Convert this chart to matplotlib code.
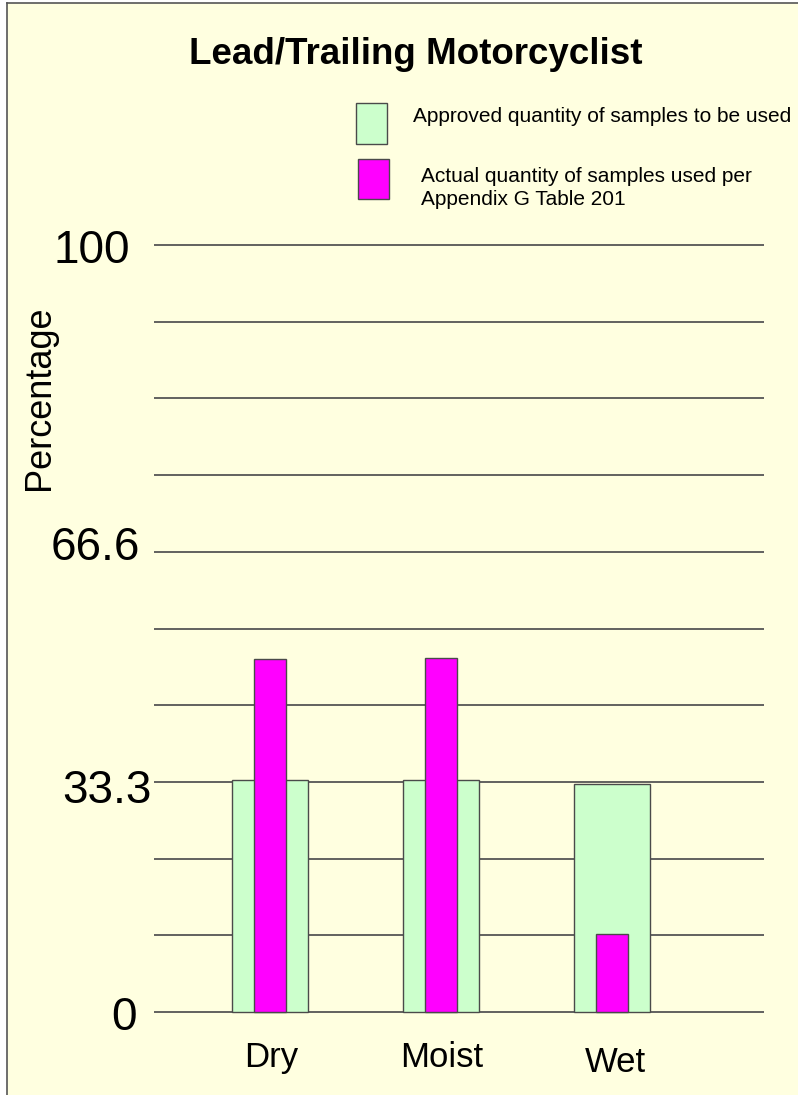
import matplotlib
matplotlib.use("Agg")
import matplotlib.pyplot as plt
from matplotlib.patches import Rectangle
from matplotlib.lines import Line2D
import matplotlib.transforms as mtransforms

plt.rcParams['font.family'] = ['Liberation Sans', 'DejaVu Sans']

# Data
categories = ["Dry", "Moist", "Wet"]
approved = [30.2, 30.2, 29.7]
actual = [46.0, 46.2, 10.2]
ytick_vals = [0, 30, 60, 100]
ytick_labels = ["0", "33.3", "66.6", "100"]
grid_vals = list(range(0, 101, 10))

W, H = 798, 1095
BG = "#FFFFE0"
GREEN = "#CCFFCC"
MAGENTA = "#FF00FF"

fig = plt.figure(figsize=(W / 100, H / 100), dpi=100)
fig.patch.set_facecolor("white")


def fx(x):
    return x / W


def fy(y):
    return 1 - y / H


# yellow panel with left/top border
fig.add_artist(Rectangle((fx(7), 0), 1 - fx(7), fy(3), transform=fig.transFigure,
                         facecolor=BG, edgecolor="none", zorder=-10))
fig.add_artist(Line2D([fx(7), fx(7)], [0, fy(3)], transform=fig.transFigure, color="#555555", lw=1.2))
fig.add_artist(Line2D([fx(7), 1], [fy(3), fy(3)], transform=fig.transFigure, color="#555555", lw=1.2))

# axes: y=0 at 1012px, y=100 at 245px; x: 154..764
ppu = (1012 - 245) / 100
ypad = 0.5
ax_bottom = 1012 + ypad * ppu
ax_top = 245 - ypad * ppu
ax = fig.add_axes([fx(154), fy(ax_bottom), fx(764) - fx(154), (ax_bottom - ax_top) / H])
ax.set_facecolor("none")

x = list(range(len(categories)))
ax.bar(x, approved, width=0.45, color=GREEN, edgecolor="#4a4a4a", linewidth=1, zorder=2)
ax.bar(x, actual, width=0.19, color=MAGENTA, edgecolor="#4a4a4a", linewidth=1, zorder=3)

xunit = (612 - 270) / 2
ax.set_xlim(-(270 - 154) / xunit, 2 + (764 - 612) / xunit)
ax.set_ylim(-ypad, 100 + ypad)

for g in grid_vals:
    ax.axhline(g, color="#555555", lw=1.3, zorder=1)

for s in ax.spines.values():
    s.set_visible(False)

ax.set_yticks(ytick_vals)
ax.set_yticklabels(ytick_labels, fontsize=33)
ax.tick_params(axis="y", length=0, pad=0)
# per-label offsets to mimic the original placement (right edge px, vertical shift px)
right_edges = [137, 152, 140, 130]
vshift = [-1.5, -4, 9, -1]
for lbl, re, vs in zip(ax.get_yticklabels(), right_edges, vshift):
    off = mtransforms.ScaledTranslation((re - 154) / 100, vs / 100, fig.dpi_scale_trans)
    lbl.set_transform(lbl.get_transform() + off)

ax.set_xticks(x)
ax.set_xticklabels(categories, fontsize=25)
ax.tick_params(axis="x", length=0, pad=18)
xshift = [1, 1, 3]
xvs = [0, 0, -5]
for lbl, xs, vs in zip(ax.get_xticklabels(), xshift, xvs):
    off = mtransforms.ScaledTranslation(xs / 100, vs / 100, fig.dpi_scale_trans)
    lbl.set_transform(lbl.get_transform() + off)

fig.text(fx(40), fy(398), "Percentage", rotation=90, fontsize=26, ha="center", va="center")

fig.text(fx(416), fy(54), "Lead/Trailing Motorcyclist", fontsize=26.5, fontweight="bold",
         ha="center", va="center")

# legend
fig.add_artist(Rectangle((fx(356), fy(144)), fx(387) - fx(356), (144 - 103) / H,
                         transform=fig.transFigure, facecolor=GREEN, edgecolor="#4a4a4a", lw=1))
fig.add_artist(Rectangle((fx(358), fy(199)), fx(389) - fx(358), (199 - 159) / H,
                         transform=fig.transFigure, facecolor=MAGENTA, edgecolor="#4a4a4a", lw=1))
fig.text(fx(413), fy(117), "Approved quantity of samples to be used", fontsize=15,
         ha="left", va="center")
fig.text(fx(421), fy(188), "Actual quantity of samples used per\nAppendix G Table 201", fontsize=15,
         ha="left", va="center", linespacing=1.3)

fig.savefig("out.png", dpi=100, facecolor=fig.get_facecolor())
